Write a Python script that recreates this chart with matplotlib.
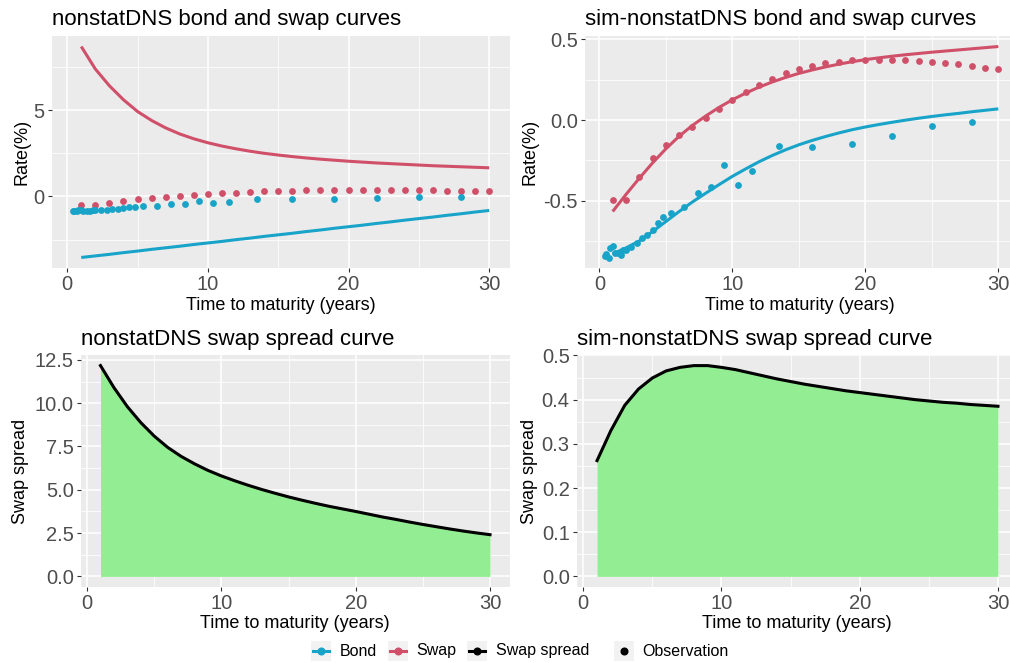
import matplotlib
matplotlib.use("Agg")
import matplotlib.pyplot as plt
from matplotlib.lines import Line2D
from matplotlib.patches import Rectangle

plt.rcParams['font.family'] = ['Liberation Sans', 'DejaVu Sans']

# ---------------------------------------------------------------------------
# Fitted curves, evaluated at annual maturities 1..30 years
# ---------------------------------------------------------------------------
curve_maturity = list(range(1, 31))

nonstat_swap = [8.68, 7.38, 6.41, 5.60, 4.92, 4.40, 3.97, 3.62, 3.34, 3.11,
                2.92, 2.76, 2.62, 2.50, 2.40, 2.31, 2.23, 2.16, 2.10, 2.04,
                1.99, 1.94, 1.90, 1.86, 1.82, 1.78, 1.75, 1.72, 1.69, 1.66]
nonstat_bond = [-3.53, -3.44, -3.35, -3.25, -3.16, -3.06, -2.97, -2.88, -2.78, -2.69,
                -2.60, -2.50, -2.41, -2.31, -2.22, -2.13, -2.03, -1.94, -1.84, -1.75,
                -1.66, -1.56, -1.47, -1.37, -1.28, -1.19, -1.09, -1.00, -0.90, -0.81]
nonstat_spread = [12.17, 10.90, 9.80, 8.88, 8.10, 7.45, 6.93, 6.50, 6.12, 5.80,
                  5.52, 5.26, 5.02, 4.80, 4.59, 4.40, 4.22, 4.05, 3.90, 3.75,
                  3.59, 3.43, 3.29, 3.14, 3.00, 2.87, 2.74, 2.62, 2.51, 2.41]

sim_swap = [-0.565, -0.460, -0.360, -0.265, -0.178, -0.100, -0.033, 0.025, 0.078, 0.125,
            0.166, 0.203, 0.235, 0.263, 0.288, 0.309, 0.328, 0.345, 0.360, 0.373,
            0.384, 0.394, 0.403, 0.411, 0.419, 0.426, 0.433, 0.440, 0.447, 0.454]
sim_bond = [-0.827, -0.790, -0.747, -0.689, -0.627, -0.565, -0.506, -0.452, -0.399, -0.348,
            -0.302, -0.258, -0.219, -0.184, -0.153, -0.126, -0.102, -0.080, -0.060, -0.043,
            -0.028, -0.014, -0.001, 0.011, 0.022, 0.032, 0.041, 0.051, 0.060, 0.069]
sim_spread = [0.262, 0.330, 0.387, 0.424, 0.449, 0.465, 0.473, 0.477, 0.477, 0.473,
              0.468, 0.461, 0.454, 0.447, 0.441, 0.435, 0.430, 0.425, 0.420, 0.416,
              0.412, 0.408, 0.404, 0.400, 0.397, 0.394, 0.392, 0.389, 0.387, 0.385]

# ---------------------------------------------------------------------------
# Observed rates
# ---------------------------------------------------------------------------
obs_swap_maturity = list(range(1, 31))
obs_swap_rate = [-0.491, -0.491, -0.351, -0.233, -0.153, -0.093, -0.041, 0.012, 0.070, 0.124,
                 0.175, 0.219, 0.256, 0.291, 0.313, 0.334, 0.351, 0.361, 0.369, 0.373,
                 0.373, 0.373, 0.369, 0.363, 0.359, 0.353, 0.344, 0.334, 0.324, 0.313]

obs_bond_maturity = [0.4, 0.5, 0.7, 0.8, 1.0, 1.15, 1.4, 1.6, 1.8, 2.0,
                     2.4, 2.8, 3.2, 3.6, 4.0, 4.4, 4.8, 5.4, 6.4, 7.4,
                     8.4, 9.4, 10.4, 11.5, 13.5, 16.0, 19.0, 22.0, 25.0, 28.0]
obs_bond_rate = [-0.840, -0.830, -0.850, -0.790, -0.780, -0.820, -0.822, -0.835, -0.805, -0.800,
                 -0.785, -0.760, -0.730, -0.710, -0.680, -0.635, -0.600, -0.575, -0.540, -0.450,
                 -0.415, -0.275, -0.400, -0.315, -0.160, -0.165, -0.150, -0.100, -0.035, -0.010]

legend_labels = ["Bond", "Swap", "Swap spread", "Observation"]

BOND_C = '#18A3C9'
SWAP_C = '#D0506A'
SPREAD_C = '#000000'
FILL_C = '#8EEE8E'
PANEL_BG = '#EBEBEB'
TICK_TXT = '#4D4D4D'

W, H = 1010, 663
fig = plt.figure(figsize=(W / 100, H / 100), dpi=100)


def px_axes(left, top, right, bottom):
    return fig.add_axes([left / W, 1 - bottom / H, (right - left) / W, (bottom - top) / H])


def gg_panel(ax, xlim, ylim, yticks, yminor, ylabels):
    ax.set_facecolor(PANEL_BG)
    for s in ax.spines.values():
        s.set_visible(False)
    ax.set_xlim(*xlim)
    ax.set_ylim(*ylim)
    ax.set_xticks([0, 10, 20, 30])
    ax.set_xticks([5, 15, 25], minor=True)
    ax.set_yticks(yticks)
    ax.set_yticklabels(ylabels)
    ax.set_yticks(yminor, minor=True)
    ax.grid(which='major', color='white', lw=1.1)
    ax.grid(which='minor', color='white', lw=0.55)
    ax.set_axisbelow(True)
    ax.tick_params(which='major', length=2.75, width=0.8, color='#333333',
                   labelsize=14.5, labelcolor=TICK_TXT, pad=2.5)
    ax.tick_params(which='minor', length=0)


def px_text(x, y, s, **kw):
    fig.text(x / W, 1 - y / H, s, **kw)


panels = {
    'tl': (52, 36, 1018 - 508, 268),
    'tr': (585, 36, 1018, 268),
    'bl': (81, 355, 509.5, 587),
    'br': (577, 355, 1018, 587),
}

# --- top left: nonstatDNS bond and swap curves ---
ax = px_axes(*panels['tl'])
gg_panel(ax, (-1.08, 31.48), (-4.14, 9.29), [0, 5], [-2.5, 2.5, 7.5], ['0', '5'])
ax.plot(curve_maturity, nonstat_swap, color=SWAP_C, lw=2.2, solid_capstyle='butt')
ax.plot(curve_maturity, nonstat_bond, color=BOND_C, lw=2.2, solid_capstyle='butt')
ax.scatter(obs_swap_maturity, obs_swap_rate, s=24, color=SWAP_C, lw=0, zorder=3)
ax.scatter(obs_bond_maturity, obs_bond_rate, s=24, color=BOND_C, lw=0, zorder=3)

# --- top right: sim-nonstatDNS bond and swap curves ---
ax = px_axes(*panels['tr'])
gg_panel(ax, (-1.08, 31.48), (-0.914, 0.519), [-0.5, 0.0, 0.5], [-0.75, -0.25, 0.25],
         ['-0.5', '0.0', '0.5'])
ax.plot(curve_maturity, sim_swap, color=SWAP_C, lw=2.2, solid_capstyle='butt')
ax.plot(curve_maturity, sim_bond, color=BOND_C, lw=2.2, solid_capstyle='butt')
ax.scatter(obs_swap_maturity, obs_swap_rate, s=24, color=SWAP_C, lw=0, zorder=3)
ax.scatter(obs_bond_maturity, obs_bond_rate, s=24, color=BOND_C, lw=0, zorder=3)

# --- bottom left: nonstatDNS swap spread ---
ax = px_axes(*panels['bl'])
gg_panel(ax, (-0.45, 31.45), (-0.61, 12.78), [0, 2.5, 5, 7.5, 10, 12.5],
         [1.25, 3.75, 6.25, 8.75, 11.25],
         ['0.0', '2.5', '5.0', '7.5', '10.0', '12.5'])
ax.fill_between(curve_maturity, 0, nonstat_spread, color=FILL_C, alpha=0.95, lw=0)
ax.plot(curve_maturity, nonstat_spread, color=SPREAD_C, lw=2.2)

# --- bottom right: sim-nonstatDNS swap spread ---
ax = px_axes(*panels['br'])
gg_panel(ax, (-0.45, 31.45), (-0.024, 0.501), [0, 0.1, 0.2, 0.3, 0.4, 0.5],
         [0.05, 0.15, 0.25, 0.35, 0.45],
         ['0.0', '0.1', '0.2', '0.3', '0.4', '0.5'])
ax.fill_between(curve_maturity, 0, sim_spread, color=FILL_C, alpha=0.95, lw=0)
ax.plot(curve_maturity, sim_spread, color=SPREAD_C, lw=2.2)

# --- titles and axis titles ---
titles = {
    'tl': "nonstatDNS bond and swap curves",
    'tr': "sim-nonstatDNS bond and swap curves",
    'bl': "nonstatDNS swap spread curve",
    'br': "sim-nonstatDNS swap spread curve",
}
ylabels = {'tl': "Rate(%)", 'tr': "Rate(%)", 'bl': "Swap spread", 'br': "Swap spread"}
ylabel_x = {'tl': 22.5, 'tr': 530.5, 'bl': 21, 'br': 529.5}
for key, (l, t, r, b) in panels.items():
    px_text(l, t - 10.5, titles[key], fontsize=16, ha='left', va='baseline')
    px_text(ylabel_x[key], (t + b) / 2, ylabels[key], fontsize=13, rotation=90,
            ha='center', va='center')
    centre = (l + min(r, 1008)) / 2 if key in ('tl', 'bl') else None

px_text(281, 305.5, "Time to maturity (years)", fontsize=13, ha='center', va='center')
px_text(800, 305.5, "Time to maturity (years)", fontsize=13, ha='center', va='center')
px_text(295, 623.5, "Time to maturity (years)", fontsize=13, ha='center', va='center')
px_text(797, 623.5, "Time to maturity (years)", fontsize=13, ha='center', va='center')

# --- legend along the bottom ---
key_x = [311, 387.5, 467, 613.5]
text_x = [340, 416.5, 496, 642.5]
key_colors = [BOND_C, SWAP_C, SPREAD_C, SPREAD_C]
with_line = [True, True, True, False]
cy = 651
for kx, tx, lab, col, ln in zip(key_x, text_x, legend_labels, key_colors, with_line):
    fig.add_artist(Rectangle((kx / W, 1 - (cy + 10) / H), 20 / W, 20 / H,
                             transform=fig.transFigure, facecolor='#F2F2F2',
                             edgecolor='none'))
    if ln:
        fig.add_artist(Line2D([(kx + 2) / W, (kx + 18) / W], [1 - cy / H, 1 - cy / H],
                              transform=fig.transFigure, color=col, lw=2.2))
    fig.add_artist(Line2D([(kx + 10) / W], [1 - cy / H], transform=fig.transFigure,
                          color=col, marker='o', markersize=4.8, lw=0))
    px_text(tx, cy, lab, fontsize=11.5, ha='left', va='center')

fig.savefig('out.png', dpi=100)
